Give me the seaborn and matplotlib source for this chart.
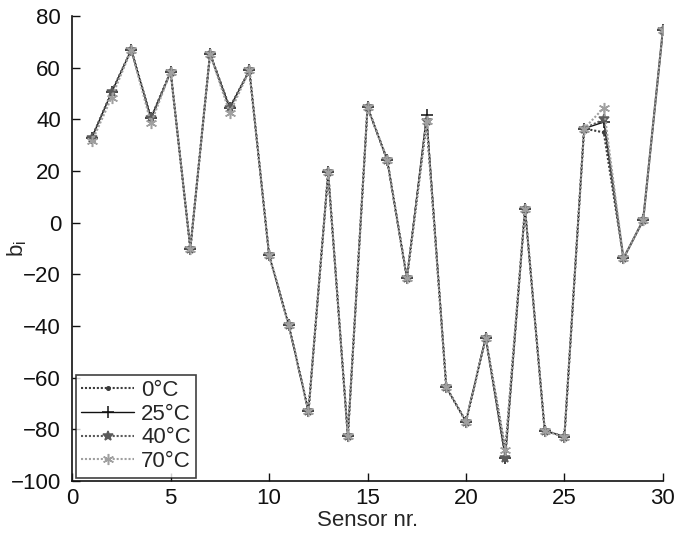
import numpy as np
import pandas as pd
import matplotlib
matplotlib.use("Agg")
import matplotlib.pyplot as plt
import seaborn as sns

# Offset coefficient b_i per sensor, measured at four temperatures
sensors = list(range(1, 31))
b_0C = [33, 50.5, 67, 40.5, 58.5, -10, 65.5, 44.5, 59, -12.5,
        -39.6, -73, 19.5, -82.6, 44.8, 24.3, -21.5, 39.5, -63.7, -77,
        -44.5, -88, 5.5, -80.5, -82.8, 36.5, 35, -13.8, 1, 74.5]
b_25C = [33, 50.5, 67, 40.5, 58.5, -10, 65.5, 44.5, 59, -12.5,
         -39.6, -73, 19.5, -82.6, 44.8, 24.3, -21.5, 41.7, -63.7, -77,
         -44.5, -91, 5.5, -80.5, -82.8, 36.5, 39, -13.8, 1, 74.5]
b_40C = [33, 50.5, 67, 40.5, 58.5, -10, 65.5, 44.5, 59, -12.5,
         -39.6, -73, 19.5, -82.6, 44.8, 24.3, -21.5, 39.5, -63.7, -77,
         -44.5, -91, 5.5, -80.5, -82.8, 36.5, 40, -13.8, 1, 74.5]
b_70C = [31.5, 48.5, 67, 38.5, 58.5, -10, 65.5, 42.5, 59, -12.5,
         -39.6, -73, 19.5, -82.6, 44.8, 24.3, -21.5, 39.5, -63.7, -77,
         -44.5, -88, 5.5, -80.5, -82.8, 36.5, 44.5, -13.8, 1, 74.5]
labels = ["0°C", "25°C", "40°C", "70°C"]

sns.set_theme(style="white")
plt.rcParams["font.family"] = ["Liberation Sans", "DejaVu Sans"]
plt.rcParams["mathtext.fontset"] = "custom"
plt.rcParams["mathtext.rm"] = "Liberation Sans"
plt.rcParams["mathtext.it"] = "Liberation Sans"

fig = plt.figure(figsize=(6.75, 5.33), dpi=100)
ax = fig.add_axes([0.107, 0.0976, 0.875, 0.872])

dots = (0, (1, 0.9))
styles = {
    "0°C": dict(color="#3c3c3c", linestyle=dots, marker=".", markersize=5,
                linewidth=1.5, zorder=3),
    "25°C": dict(color="#111111", linestyle="-", marker="+", markersize=8,
                 linewidth=1.0, zorder=2),
    "40°C": dict(color="#5a5a5a", linestyle=dots, marker="*", markersize=7,
                 linewidth=1.5, zorder=4),
    "70°C": dict(color="#a0a0a0", linestyle=dots, marker=(6, 2, 0), markersize=8,
                 linewidth=1.5, zorder=5),
}
series = {"0°C": b_0C, "25°C": b_25C, "40°C": b_40C, "70°C": b_70C}

for lab in labels:
    st = styles[lab]
    df = pd.DataFrame({"Sensor": sensors, "b": series[lab]})
    sns.lineplot(data=df, x="Sensor", y="b", ax=ax, label=lab,
                 markeredgecolor=st["color"], markerfacecolor=st["color"],
                 markeredgewidth=1.1, **st)

ax.set_xlim(0, 30)
ax.set_ylim(-100, 80)
ax.set_xticks(range(0, 31, 5))
ax.set_yticks(range(-100, 81, 20))
ax.set_yticklabels([str(v).replace("-", "\u2212") for v in range(-100, 81, 20)])
ax.tick_params(direction="in", length=6, width=1, labelsize=16, colors="#111111",
               left=True, bottom=True, pad=8)
ax.tick_params(axis="x", pad=5)
ax.set_xlabel("Sensor nr.", fontsize=16, labelpad=1)
ax.set_ylabel(r"b$_\mathrm{i}$", fontsize=16)
ax.yaxis.set_label_coords(-0.074, 0.5)

for side in ["top", "right"]:
    ax.spines[side].set_visible(False)
for side in ["left", "bottom"]:
    ax.spines[side].set_color("#111111")
    ax.spines[side].set_linewidth(1.2)

handles, hl = ax.get_legend_handles_labels()
leg = ax.legend(handles, hl, loc="lower left", fontsize=16, frameon=True, fancybox=False,
                edgecolor="#111111", handlelength=2.4, borderpad=0.25,
                labelspacing=0.12, handletextpad=0.3, borderaxespad=0.15)
leg.get_frame().set_linewidth(1.2)

fig.savefig("out.png", dpi=100, facecolor="white")
